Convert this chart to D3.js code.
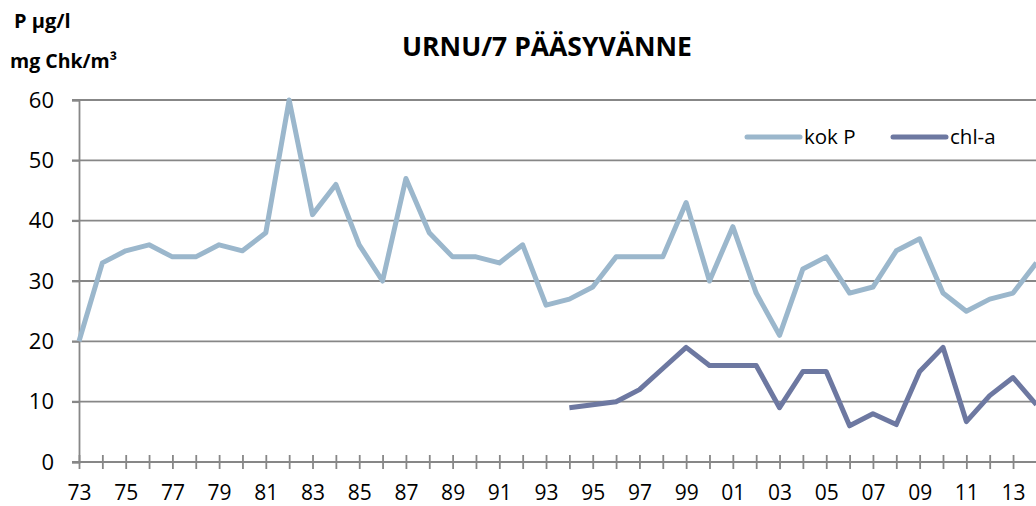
<!DOCTYPE html>
<html>
<head>
<meta charset="utf-8">
<script src="https://cdn.jsdelivr.net/npm/d3@7"></script>
<style>
  body { margin: 0; background: #fff; overflow: hidden; }
  svg { display: block; font-family: "Open Sans", "Liberation Sans", sans-serif; }
</style>
</head>
<body>
<div id="container"></div>
<script>
/* CONSTANTS AND GLOBALS */
const width = 1036,
  height = 506,
  margin = { top: 100, bottom: 44, left: 79, right: 0 };

/* DATA */
const years = d3.range(1973, 2015);
const kokP = [20, 33, 35, 36, 34, 34, 36, 35, 38, 60,
  41, 46, 36, 30, 47, 38, 34, 34, 33, 36,
  26, 27, 29, 34, 34, 34, 43, 30, 39, 28,
  21, 32, 34, 28, 29, 35, 37, 28, 25, 27,
  28, 33];
const chlA = [null, null, null, null, null, null, null, null, null, null,
  null, null, null, null, null, null, null, null, null, null,
  null, 9, 9.5, 10, 12, 15.5, 19, 16, 16, 16,
  9, 15, 15, 6, 8, 6.2, 15, 19, 6.7, 11,
  14, 9.5];
const yTicks = [0, 10, 20, 30, 40, 50, 60];
const seriesNames = ["kok P", "chl-a"];
const colors = ["#9bb7cc", "#6d78a1"];

const label = y => String(y % 100).padStart(2, "0");

// SCALES
const xScale = d3.scalePoint()
  .domain(years)
  .range([margin.left, 1036.4]);

const yScale = d3.scaleLinear()
  .domain([0, 60])
  .range([height - margin.bottom, margin.top]);

// CREATE SVG ELEMENT
const svg = d3.select("#container")
  .append("svg")
  .attr("width", width)
  .attr("height", height);

// GRIDLINES
svg.append("g")
  .selectAll("line")
  .data(yTicks)
  .join("line")
  .attr("x1", margin.left - 7)
  .attr("x2", width)
  .attr("y1", d => yScale(d))
  .attr("y2", d => yScale(d))
  .attr("stroke", "#878787")
  .attr("stroke-width", 1.8);

// Y AXIS
const yAxis = svg.append("g")
  .attr("transform", `translate(${margin.left},0)`)
  .call(d3.axisLeft(yScale).tickValues(yTicks).tickSize(7).tickPadding(18));
yAxis.attr("font-family", null).attr("font-size", 22);
yAxis.select(".domain").attr("stroke", "#878787").attr("stroke-width", 1.8);
yAxis.selectAll(".tick line").attr("stroke", "#878787").attr("stroke-width", 1.8);
yAxis.selectAll("text").attr("fill", "#000");

// X AXIS
const xAxis = svg.append("g")
  .attr("transform", `translate(0,${yScale(0)})`)
  .call(d3.axisBottom(xScale).tickSize(0).tickFormat(d => d % 2 === 1 ? label(d) : ""));
xAxis.attr("font-family", null).attr("font-size", 21);
xAxis.select(".domain").remove();
xAxis.selectAll("text").attr("fill", "#000").attr("y", 31).attr("dy", "0.35em");
xAxis.selectAll(".tick line")
  .attr("y1", -7).attr("y2", 7)
  .attr("stroke", "#878787").attr("stroke-width", 1.8);

// LINE GENERATOR FUNCTION
const lineGen = d3.line()
  .defined(d => d.v != null)
  .x(d => xScale(d.year))
  .y(d => yScale(d.v));

// DRAW LINES
const series = [kokP, chlA].map(vals => years.map((y, i) => ({ year: y, v: vals[i] })));

svg.selectAll(".series")
  .data(series)
  .join("path")
  .attr("class", "series")
  .attr("fill", "none")
  .attr("stroke", (d, i) => colors[i])
  .attr("stroke-width", 5)
  .attr("stroke-linejoin", "round")
  .attr("d", d => lineGen(d));

// LEGEND
const legend = svg.append("g")
  .selectAll("g")
  .data(seriesNames)
  .join("g")
  .attr("transform", (d, i) => `translate(${747 + i * 146},137)`);
legend.append("line")
  .attr("x1", 0).attr("x2", 53)
  .attr("stroke", (d, i) => colors[i])
  .attr("stroke-width", 5)
  .attr("stroke-linecap", "round");
legend.append("text")
  .attr("x", 57)
  .attr("dy", "0.35em")
  .attr("font-size", 20.5)
  .text(d => d);

// TITLE AND UNITS
svg.append("text")
  .attr("x", 547).attr("y", 56)
  .attr("text-anchor", "middle")
  .attr("font-size", 26.5)
  .attr("font-weight", "bold")
  .text("URNU/7 PÄÄSYVÄNNE");

svg.append("text")
  .attr("x", 14).attr("y", 28)
  .attr("font-size", 20)
  .attr("font-weight", "bold")
  .text("P µg/l");

svg.append("text")
  .attr("x", 10).attr("y", 68)
  .attr("font-size", 19.5)
  .attr("font-weight", "bold")
  .text("mg Chk/m³");
</script>
</body>
</html>
